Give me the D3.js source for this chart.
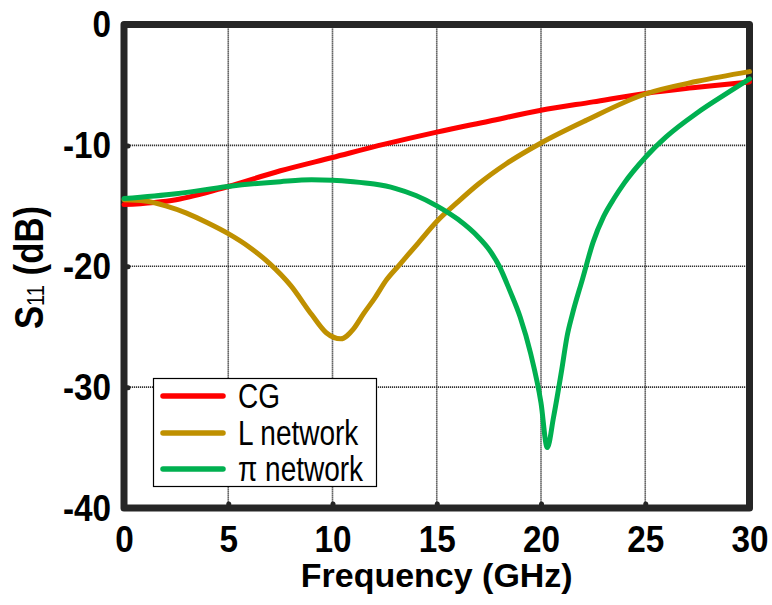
<!DOCTYPE html>
<html>
<head>
<meta charset="utf-8">
<script src="https://cdn.jsdelivr.net/npm/d3@7"></script>
<style>
  body { margin: 0; background: #fff; }
  svg { display: block; }
</style>
</head>
<body>
<script>
// Axis ticks
const xTicks = [0, 5, 10, 15, 20, 25, 30];
const yTicks = [0, -10, -20, -30, -40];

// CG input stage
const cgFreq = [0, 2.5, 5, 7.5, 10, 12.5, 15, 17.5, 20, 22.5, 25, 27.5, 30];
const cgS11  = [-14.9, -14.5, -13.4, -12.1, -11.0, -9.9, -8.9, -8.0, -7.1, -6.4, -5.7, -5.2, -4.75];

// L matching network
const lFreq = [0, 1, 2, 3, 4, 5, 6, 7, 8, 9, 9.7, 10.4, 11, 11.5, 12, 12.6, 13.2, 14.1, 15, 16, 17, 18.35, 20, 22.2, 25, 27.5, 30];
const lS11  = [-14.5, -14.6, -15.0, -15.6, -16.4, -17.3, -18.4, -19.8, -21.6, -24.0, -25.5, -26.0, -25.2, -23.9, -22.7, -21.1, -19.9, -18.1, -16.3, -14.7, -13.2, -11.5, -9.8, -7.9, -5.75, -4.7, -3.9];

// Pi matching network
const piFreq = [0, 2.5, 5, 7.5, 9, 10, 11, 12, 13, 14, 15, 16, 17, 17.5, 18, 18.5, 19, 19.5, 20, 20.3, 20.6, 21, 21.25, 21.5, 22, 22.5, 23, 23.5, 24, 25, 26, 27.5, 29, 30];
const piS11  = [-14.4, -14.0, -13.4, -13.0, -12.85, -12.88, -13.0, -13.2, -13.55, -14.15, -15.0, -16.1, -17.6, -18.6, -20.0, -22.0, -24.2, -27.2, -31.3, -35.0, -32.5, -28.5, -25.8, -24.0, -21.0, -18.0, -15.9, -14.4, -13.1, -11.0, -9.3, -7.3, -5.6, -4.5];

const seriesNames  = ["CG", "L network", "\u03C0 network"];
const seriesColors = ["#ff0000", "#bf9000", "#00b050"];
const seriesFreq   = [cgFreq, lFreq, piFreq];
const seriesS11    = [cgS11, lS11, piS11];

const W = 772, H = 605;
const FONT = "'Liberation Sans', Arial, Helvetica, sans-serif";
const FRAME = "#262626";

const svg = d3.select("body").append("svg")
  .attr("width", W).attr("height", H)
  .style("font-family", FONT);

const x = d3.scaleLinear().domain([0, 30]).range([124, 749.5]);
const y = d3.scaleLinear().domain([-40, 0]).range([508, 24.5]);

// Dotted grid
const grid = svg.append("g")
  .attr("stroke", "#333").attr("stroke-width", 1.6).attr("stroke-dasharray", "1.2,0.8");
grid.selectAll("line.v").data(xTicks.slice(1, -1)).join("line")
  .attr("class", "v")
  .attr("x1", d => x(d)).attr("x2", d => x(d))
  .attr("y1", y(0)).attr("y2", y(-40));
grid.selectAll("line.h").data(yTicks.slice(1, -1)).join("line")
  .attr("class", "h")
  .attr("x1", x(0)).attr("x2", x(30))
  .attr("y1", d => y(d)).attr("y2", d => y(d));

// Axes (ticks point inward, labels bold)
const xAxis = svg.append("g")
  .attr("transform", `translate(0,${y(-40)})`)
  .call(d3.axisBottom(x).tickValues(xTicks).tickSize(-4).tickFormat(d => String(d)));
const yAxis = svg.append("g")
  .attr("transform", `translate(${x(0)},0)`)
  .call(d3.axisLeft(y).tickValues(yTicks).tickSize(-4).tickFormat(d => String(d)));

[xAxis, yAxis].forEach(g => {
  g.attr("font-family", FONT).attr("font-size", 37).attr("font-weight", "bold");
  g.select(".domain").remove();
  g.selectAll(".tick line")
    .attr("stroke", FRAME).attr("stroke-width", 5).attr("stroke-linecap", "round");
  g.selectAll(".tick text").attr("fill", "#000").attr("dy", null).attr("x", 0).attr("y", 0);
});
xAxis.selectAll(".tick text").attr("transform", "translate(0,44) scale(0.9,1)");
yAxis.selectAll(".tick text").attr("transform", "translate(-13,12) scale(0.9,1)");

// Plot frame
svg.append("rect")
  .attr("x", x(0)).attr("y", y(0))
  .attr("width", x(30) - x(0)).attr("height", y(-40) - y(0))
  .attr("fill", "none").attr("stroke", FRAME).attr("stroke-width", 7)
  .attr("stroke-linejoin", "round");

// Curves
const line = d3.line()
  .x(d => x(d[0])).y(d => y(d[1]))
  .curve(d3.curveMonotoneX);

svg.append("g").selectAll("path")
  .data(seriesNames.map((name, i) => ({
    name, color: seriesColors[i],
    pts: seriesFreq[i].map((f, j) => [f, seriesS11[i][j]])
  })))
  .join("path")
  .attr("d", d => line(d.pts))
  .attr("fill", "none")
  .attr("stroke", d => d.color)
  .attr("stroke-width", 5)
  .attr("stroke-linecap", "round")
  .attr("stroke-linejoin", "round");

// Legend
const legend = svg.append("g");
legend.append("rect")
  .attr("x", 153.5).attr("y", 378.5).attr("width", 223).attr("height", 108)
  .attr("fill", "#fff").attr("stroke", "#000").attr("stroke-width", 1.2);
const rowY = [396, 433, 469];
const item = legend.selectAll("g.item").data(seriesNames).join("g")
  .attr("class", "item")
  .attr("transform", (d, i) => `translate(0,${rowY[i]})`);
item.append("line")
  .attr("x1", 163).attr("x2", 223).attr("y1", 0).attr("y2", 0)
  .attr("stroke", (d, i) => seriesColors[i]).attr("stroke-width", 5.5)
  .attr("stroke-linecap", "round");
item.append("text")
  .attr("transform", "translate(238,12) scale(0.8,1)")
  .attr("font-size", 35).attr("fill", "#000")
  .text(d => d);

// Axis titles
svg.append("text")
  .attr("transform", `translate(${(x(0) + x(30)) / 2},587) scale(1.03,1)`)
  .attr("text-anchor", "middle")
  .attr("font-size", 33).attr("font-weight", "bold").attr("fill", "#000")
  .text("Frequency (GHz)");

const yTitle = svg.append("text")
  .attr("transform", "translate(43,267.5) rotate(-90) scale(0.87,1)")
  .attr("text-anchor", "middle")
  .attr("font-size", 40).attr("font-weight", "bold").attr("fill", "#000");
yTitle.append("tspan").text("S");
yTitle.append("tspan").attr("font-size", 23).attr("font-weight", "normal").attr("dy", 1).text("11");
yTitle.append("tspan").attr("dy", -1).text(" (dB)");
</script>
</body>
</html>
